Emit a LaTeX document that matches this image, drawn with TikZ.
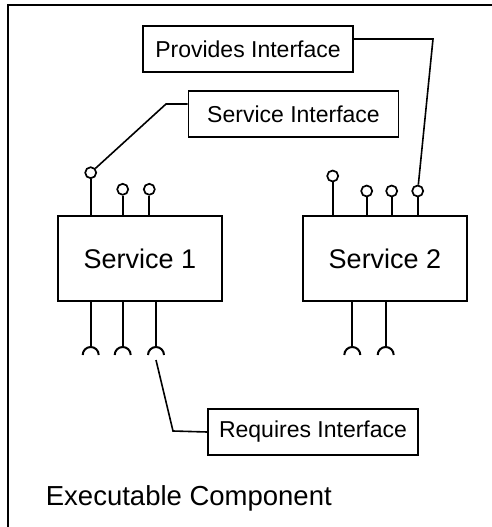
\documentclass[tikz,border=0pt]{standalone}
\usepackage{fontspec}
\setmainfont{Liberation Sans}
\begin{document}
\begin{tikzpicture}[x=1pt,y=-1pt,line width=1.8pt,
  label box/.style={draw,line width=1.6pt,minimum width=210pt,minimum height=46pt,inner sep=0pt,font=\fontsize{23}{26}\selectfont},
  service box/.style={draw,line width=1.8pt,minimum width=164pt,minimum height=85pt,inner sep=0pt,font=\fontsize{27}{30}\selectfont},
  lollipop/.style={draw,circle,line width=1.7pt,minimum size=11pt,inner sep=0pt},
  stem/.style={line width=2pt},
  lead/.style={line width=1.6pt}]
\useasboundingbox (0,0) rectangle (492,527);
\fill[white] (0,0) rectangle (492,527);
% frame (top and left edges visible)
\coordinate (fl) at (8,527);
\coordinate (ftl) at (8,5.5);
\coordinate (ftr) at (492,5.5);
\draw[line width=2pt] (fl) -- (ftl) -- (ftr);

% labels
\node[label box] (prov) at (248,49) {Provides Interface};
\node[label box] (si) at (293.5,114) {Service Interface};
\node[label box] (rq) at (313,432) {Requires Interface};

% services
\node[service box] (s1) at (140,258.5) {Service 1};
\node[service box] (s2) at (385,258.5) {Service 2};

% provided interfaces
\node[lollipop] (p1) at (90.7,172.7) {};
\node[lollipop] (p2) at (122.7,189.3) {};
\node[lollipop] (p3) at (149.3,189.3) {};
\node[lollipop] (p4) at (332.7,176) {};
\node[lollipop] (p5) at (366.7,191) {};
\node[lollipop] (p6) at (391.7,191) {};
\node[lollipop] (p7) at (417.7,191) {};
\foreach \p/\s in {p1/s1,p2/s1,p3/s1,p4/s2,p5/s2,p6/s2,p7/s2}
  \draw[stem] (\p.south) -- (\p.south |- \s.north);

% required interfaces (sockets)
\foreach \n/\x/\s in {r1/90.7/s1,r2/122.7/s1,r3/156/s1,r4/352.3/s2,r5/385.7/s2}{
  \coordinate (\n) at (\x,347);
  \draw[stem] (\n |- \s.south) -- (\n);
  \draw[stem] (\n) ++(-8,8) arc[start angle=180,end angle=360,radius=8];
}

% leader lines
\coordinate (sib) at (166,104);
\draw[lead] ([yshift=10pt]si.west) -- (sib) -- (p1);
\coordinate (pvb) at (433,39);
\draw[lead] ([yshift=10pt]prov.east) -- (pvb) -- (p7);
\coordinate (rqs) at (156,360);
\coordinate (rqb) at (173,431);
\draw[lead] (rq.west) -- (rqb) -- (rqs);

% component name
\node[anchor=base west,inner sep=0pt,font=\fontsize{27.5}{30}\selectfont] (ec) at (45,505.7) {Executable Component};
\end{tikzpicture}
\end{document}
